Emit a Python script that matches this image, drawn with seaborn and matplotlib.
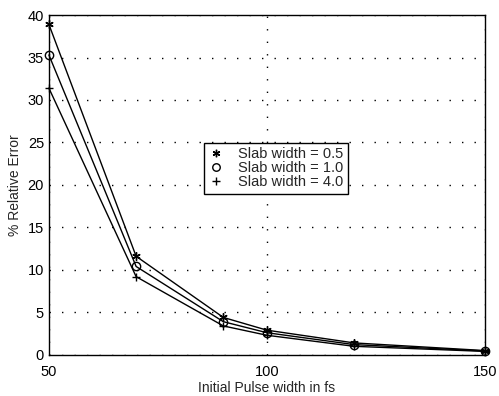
import numpy as np
import pandas as pd
import matplotlib
matplotlib.use("Agg")
import matplotlib.pyplot as plt
import seaborn as sns

# values
pulse_width = [50, 70, 90, 100, 120, 150]
err_05 = [38.9, 11.6, 4.4, 2.9, 1.4, 0.5]
err_10 = [35.3, 10.4, 3.9, 2.6, 1.2, 0.45]
err_40 = [31.4, 9.2, 3.4, 2.3, 1.0, 0.4]
labels = ["Slab width = 0.5", "Slab width = 1.0", "Slab width = 4.0"]

sns.set_style("white")
plt.rcParams["font.family"] = ["Liberation Sans", "DejaVu Sans"]

fig = plt.figure(figsize=(4.99, 3.96), dpi=100)
ax = fig.add_axes([0.098, 0.104, 0.874, 0.858])

markers = [(6, 2, 0), "o", "+"]
for vals, lab, m in zip([err_05, err_10, err_40], labels, markers):
    df = pd.DataFrame({"x": pulse_width, "y": vals})
    sns.lineplot(data=df, x="x", y="y", ax=ax, color="black", lw=1.0,
                 marker=m, markersize=6, markerfacecolor="none",
                 markeredgecolor="black", markeredgewidth=1.0, label=lab,
                 clip_on=False)

ax.set_xlim(50, 150)
ax.set_ylim(0, 40)
ax.set_xticks([50, 100, 150])
ax.set_yticks(np.arange(0, 41, 5))
ax.grid(True, color="black", linestyle=(0, (1, 8)), linewidth=1.0)
ax.tick_params(direction="in", length=4, labelsize=10.5, colors="black")
ax.tick_params(axis="x", pad=7)
for s in ax.spines.values():
    s.set_color("black")
    s.set_linewidth(1.0)
ax.set_xlabel("Initial Pulse width in fs", fontsize=10, labelpad=2)
ax.set_ylabel("% Relative Error", fontsize=10)

leg = ax.legend(loc="upper left", bbox_to_anchor=(0.34, 0.645), fontsize=10.5,
                frameon=True, fancybox=False, framealpha=1, edgecolor="black",
                handlelength=1.0, handletextpad=1.0, borderpad=0.3,
                labelspacing=0.0, markerscale=0.9)
for h in leg.get_lines():
    h.set_linestyle("none")
leg.get_frame().set_linewidth(1.0)

fig.savefig("out.png", dpi=100)
